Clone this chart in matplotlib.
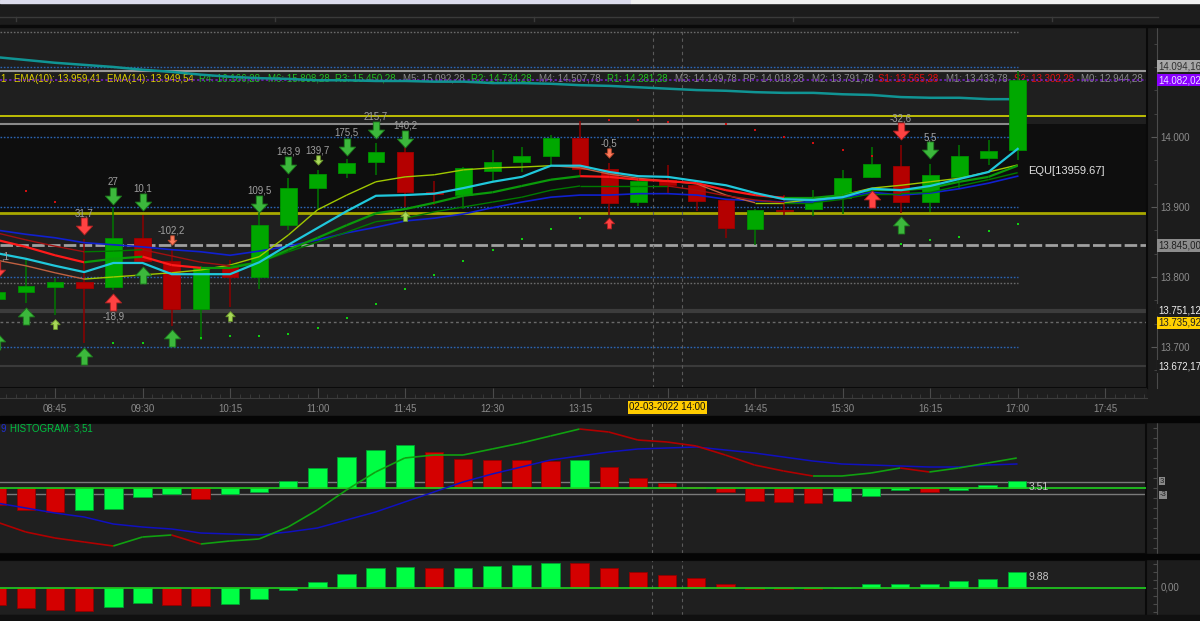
import matplotlib
matplotlib.use("Agg")
import matplotlib.pyplot as plt
import numpy as np
from matplotlib.collections import LineCollection
from matplotlib.lines import Line2D
from matplotlib.patches import Rectangle
from matplotlib.path import Path
from matplotlib.ticker import FuncFormatter, MultipleLocator, FixedLocator
from matplotlib.transforms import blended_transform_factory

plt.rcParams['font.family'] = ['Liberation Sans', 'DejaVu Sans']

W, H = 1200, 621

# 15 minute bars, 02-03-2022
bar_labels = ["08:15", "08:30", "08:45", "09:00", "09:15", "09:30", "09:45", "10:00", "10:15",
              "10:30", "10:45", "11:00", "11:15", "11:30", "11:45", "12:00", "12:15", "12:30",
              "12:45", "13:00", "13:15", "13:30", "13:45", "14:00", "14:15", "14:30", "14:45",
              "15:00", "15:15", "15:30", "15:45", "16:00", "16:15", "16:30", "16:45", "17:00"]
opens = [13769, 13779, 13786, 13793, 13786, 13856, 13823, 13754, 13816, 13800, 13874, 13927,
         13949, 13964, 13979, 13921, 13917, 13951, 13964, 13973, 13999, 13954, 13907, 13939,
         13931, 13910, 13869, 13896, 13897, 13913, 13943, 13959, 13907, 13943, 13970, 13981]
closes = [13779, 13787, 13793, 13784, 13856, 13823, 13754, 13813, 13800, 13874, 13927, 13947,
          13963, 13979, 13921, 13919, 13956, 13964, 13973, 13999, 13954, 13906, 13937, 13931,
          13909, 13870, 13896, 13894, 13911, 13941, 13961, 13907, 13946, 13973, 13980, 14082.02]
highs = [13782, 13827, 13799, 13854, 13900, 13889, 13840, 13815, 13824, 13891, 13941, 13953,
         13969, 13991, 13989, 13937, 13957, 13981, 13986, 14003, 14023, 13963, 13939, 13960,
         13933, 13911, 13897, 13917, 13924, 13953, 13986, 13989, 13961, 13989, 13996, 14094.16]
lows = [13765, 13763, 13746, 13706, 13781, 13821, 13730, 13710, 13757, 13783, 13867, 13896,
        13941, 13946, 13900, 13903, 13897, 13937, 13950, 13960, 13946, 13889, 13901, 13920,
        13894, 13856, 13846, 13889, 13887, 13890, 13942, 13891, 13893, 13927, 13960, 13967]

ma_cyan = [13834, 13826, 13816, 13807, 13820, 13820, 13804, 13804, 13804, 13821, 13846, 13870,
           13894, 13916, 13917, 13919, 13927, 13936, 13943, 13959, 13959, 13950, 13944, 13943,
           13937, 13931, 13920, 13911, 13910, 13914, 13926, 13924, 13930, 13940, 13950, 13983]
ema10 = [13853, 13843, 13831, 13821, 13826, 13829, 13817, 13813, 13813, 13821, 13839, 13856,
         13874, 13891, 13897, 13906, 13916, 13921, 13930, 13939, 13944, 13943, 13939, 13937,
         13934, 13924, 13917, 13913, 13913, 13917, 13924, 13924, 13927, 13936, 13943, 13959]
ema14 = [13863, 13853, 13844, 13836, 13837, 13839, 13830, 13821, 13816, 13821, 13836, 13850,
         13864, 13879, 13884, 13893, 13900, 13907, 13914, 13924, 13930, 13930, 13930, 13930,
         13924, 13916, 13910, 13906, 13906, 13911, 13919, 13919, 13921, 13930, 13939, 13949]
ma_blue = [13867, 13861, 13856, 13849, 13846, 13843, 13839, 13836, 13831, 13837, 13844, 13853,
           13863, 13871, 13880, 13884, 13890, 13899, 13907, 13914, 13917, 13917, 13919, 13919,
           13917, 13911, 13909, 13907, 13907, 13913, 13921, 13917, 13920, 13926, 13934, 13944]
ma_lime = [13824, 13816, 13806, 13797, 13800, 13803, 13806, 13810, 13817, 13829, 13860, 13896,
           13917, 13936, 13943, 13946, 13953, 13956, 13957, 13959, 13956, 13947, 13941, 13937,
           13933, 13917, 13906, 13906, 13911, 13917, 13927, 13931, 13936, 13941, 13950, 13960]
ma_long = [14114, 14110, 14106, 14103, 14100, 14096, 14093, 14089, 14086, 14084, 14083, 14081,
           14081, 14080, 14080, 14079, 14079, 14077, 14077, 14076, 14074, 14073, 14071, 14069,
           14067, 14066, 14064, 14063, 14063, 14061, 14060, 14057, 14056, 14056, 14054, 14054]

# signal arrows (bar index, price)
down_green_idx = [4, 5, 9, 10, 12, 13, 14, 32]
down_green_val = [13916, 13907, 13904, 13960, 13986, 14010, 13997, 13981]
down_lime_idx = [11]
down_lime_val = [13967]
down_red_idx = [0, 3, 31]
down_red_val = [13810, 13873, 14009]
down_salmon_idx = [6, 21]
down_salmon_val = [13853, 13977]
up_green_idx = [0, 1, 3, 5, 6, 31]
up_green_val = [13709, 13744, 13687, 13803, 13713, 13874]
up_lime_idx = [2, 8, 14]
up_lime_val = [13733, 13744, 13887]
up_red_idx = [4, 30]
up_red_val = [13764, 13911]
up_red_small_idx = [21]
up_red_small_val = [13877]
signal_text_idx = [3, 4, 5, 6, 9, 10, 11, 12, 13, 14, 21, 31, 32, 4]
signal_text = ["31,7", "27", "10,1", "-102,2", "109,5", "143,9", "139,7", "175,5",
               "215,7", "140,2", "-0,5", "-32,6", "5,5", "-18,9"]
signal_text_val = [13891, 13936, 13927, 13867, 13923, 13979, 13980, 14006, 14029, 14017,
                   13991, 14026, 13999, 13744]
edge_text, edge_text_val = ",1", 13829

green_dot_idx = [4, 5, 7, 8, 9, 10, 11, 12, 13, 14, 15, 16, 17, 18, 19, 20, 31, 32, 33, 34, 35]
green_dot_val = [13706, 13706, 13713, 13716, 13716, 13719, 13727, 13741, 13761, 13783, 13803,
                 13823, 13839, 13854, 13869, 13884, 13847, 13853, 13857, 13866, 13876]
red_dot_idx = [1, 2, 21, 22, 23, 25, 26, 27, 28, 29, 30]
red_dot_val = [13923, 13907, 14024, 14024, 14021, 14019, 14010, 14000, 13991, 13981, 13973]

# levels
pivot_names = ["R4", "M6", "R3", "M5", "R2", "M4", "R1", "M3", "PP", "M2", "S1", "M1", "S2", "M0"]
pivot_values = [16166.28, 15808.28, 15450.28, 15092.28, 14734.28, 14507.78, 14281.28, 14149.78,
                14018.28, 13791.78, 13565.28, 13433.78, 13302.28, 12944.28]
ema10_last, ema14_last, equ_value = 13959.41, 13949.54, 13959.67
grid_levels = [13700, 13800, 13900, 14000, 14100]
price_ticks = [13700, 13800, 13900, 14000]
upper_dotted = 14150
yellow_level = 14030
band_low = 13891
day_high, last_price = 14094.16, 14082.02
dashed_level = 13845.00
level_a, level_b, level_c = 13751.12, 13735.92, 13672.17

# MACD style panels
macd = [-17, -22, -25, -27, -29, -24.5, -23.5, -28, -26.5, -25.5, -19.5, -11, -1, 8, 15, 16.5,
        16.5, 19.5, 22.5, 26, 29.5, 28, 24, 23, 21, 16.5, 11.5, 8.5, 6, 6, 7.5, 10, 8, 10, 12.5, 15]
signal = [-7.5, -10, -12.5, -14.5, -18, -19.5, -20.5, -22.5, -23, -23.5, -22, -20, -16, -12, -7,
          -2, 3, 7, 10.5, 14, 16, 18, 19.5, 20, 20.5, 19, 17.5, 15.5, 13.5, 12, 11.5, 11, 10.5,
          10.5, 11.5, 12]
histogram = [-8.5, -11, -12, -11, -10.5, -4.5, -3, -5.5, -3, -2, 3.5, 10, 15.5, 19, 21.5, 18,
             14.5, 14.2, 14, 13.5, 14, 10.5, 5, 2.5, 0.5, -2, -6.5, -7, -7.5, -6.5, -4, -1, -2,
             -1, 1.5, 3.51]
momentum = [-10.5, -12.3, -13.6, -14.2, -11.7, -9.3, -10.5, -11.1, -9.9, -6.8, -1.2, 3.7, 8.6,
            12.3, 13.0, 12.3, 12.4, 13.6, 14.2, 15.6, 15.4, 12.3, 9.9, 8.0, 6.2, 2.5, -0.5, -0.6,
            -0.8, 0.1, 2.5, 2.6, 2.7, 4.3, 5.6, 9.88]


def to_min(label):
    hh, mm = label.split(":")
    return (int(hh) - 8) * 60 + int(mm)


def br(v, nd=2):
    s = f"{v:,.{nd}f}"
    return s.replace(",", "X").replace(".", ",").replace("X", ".")


def px_rect(left, top, right, bottom):
    return [left / W, 1 - bottom / H, (right - left) / W, (bottom - top) / H]


def slope_line(ax, x, y, up_col, down_col, lw, z):
    segs, cols = [], []
    for i in range(len(x) - 1):
        if np.isnan(y[i]) or np.isnan(y[i + 1]):
            continue
        segs.append([(x[i], y[i]), (x[i + 1], y[i + 1])])
        cols.append(up_col if y[i + 1] >= y[i] else down_col)
    ax.add_collection(LineCollection(segs, colors=cols, linewidths=lw, zorder=z))


def rise_colors(vals, up, down):
    return [down] + [up if b > a else down for a, b in zip(vals[:-1], vals[1:])]


x = np.array([to_min(t) for t in bar_labels], float)
X0, X1 = 16.7, 606.5
mark_times = [352.5, 367.5]

fig = plt.figure(figsize=(12, 6.21), dpi=100, facecolor='#1c1c1c')

# top strip and separators
fig.add_artist(Rectangle((0, 1 - 3 / H), 631 / W, 3 / H, transform=fig.transFigure, color='#dcdcec'))
fig.add_artist(Rectangle((631 / W, 1 - 3 / H), 1 - 631 / W, 3 / H, transform=fig.transFigure, color='#f0f0f0'))
fig.add_artist(Line2D([0, 1158 / W], [1 - 17 / H] * 2, transform=fig.transFigure, color='#3a3a3a', lw=1))
for tx in [16, 275, 534, 793, 1052]:
    fig.add_artist(Line2D([tx / W] * 2, [1 - 17 / H, 1 - 21 / H], transform=fig.transFigure, color='#3a3a3a', lw=1))
fig.add_artist(Rectangle((0, 1 - 27 / H), 1, 2 / H, transform=fig.transFigure, color='#0a0a0a'))
fig.add_artist(Rectangle((0, 1 - 422 / H), 1, 6 / H, transform=fig.transFigure, color='#050505'))
fig.add_artist(Rectangle((0, 1 - 559 / H), 1, 5 / H, transform=fig.transFigure, color='#050505'))
fig.add_artist(Rectangle((0, 0), 1, 6 / H, transform=fig.transFigure, color='#101010'))

# ---------------- main price panel ----------------
ax = fig.add_axes(px_rect(0, 27, 1147, 388), facecolor='#1f1f1f')
ax.set_xlim(X0, X1)
ax.set_ylim(13641.4, 14157.1)
ax.set_xticks([])
ax.spines['left'].set_visible(False)
for s in ('top', 'bottom'):
    ax.spines[s].set_color('#0a0a0a')
    ax.spines[s].set_linewidth(1.5)
ax.spines['right'].set_position(('outward', 7.4))
ax.spines['right'].set_color('#4a4a4a')
ax.yaxis.tick_right()
ax.yaxis.set_major_locator(FixedLocator(price_ticks))
ax.yaxis.set_minor_locator(MultipleLocator(100 / 3))
ax.yaxis.set_major_formatter(FuncFormatter(lambda v, p: br(v, 0)))
ax.tick_params(axis='y', which='major', direction='in', length=4, color='#5a5a5a',
               labelcolor='#8c8c8c', labelsize=7, pad=2)
ax.tick_params(axis='y', which='minor', direction='in', length=2.5, color='#4a4a4a')
ax.plot([1, 1], [0, 1], transform=ax.transAxes, color='#0a0a0a', lw=1.5, clip_on=False, zorder=10)

ax.axhspan(band_low, pivot_values[8], color='#0e0e0e', zorder=0.5, lw=0)
ax.hlines(grid_levels, X0, x[-1], colors='#2a64b4', linestyles=(0, (1.2, 1.2)), lw=1, zorder=1)
ax.hlines([upper_dotted, pivot_values[9]], X0, x[-1], colors='#6a6a6a', linestyles=(0, (1.2, 1.2)), lw=1, zorder=1)
ax.hlines([pivot_values[8]], X0, x[-1], colors='#8a8a8a', lw=1.5, zorder=1)
ax.axhline(day_high, color='#9a9a9a', lw=1.5, zorder=1)
ax.axhline(yellow_level, color='#d8d800', lw=1.2, zorder=1)
ax.axhline(band_low, color='#a8a800', lw=2, zorder=1)
ax.axhline(dashed_level, color='#a0a0a0', lw=2, ls=(0, (4.5, 1.2)), zorder=1)
ax.axhline(level_a, color='#3c3c3c', lw=3, zorder=1)
ax.axhline(level_b, color='#6a6a6a', lw=1, ls=(0, (2, 2)), zorder=1)
ax.axhline(level_c, color='#3a3a3a', lw=1.5, zorder=1)
ax.axhline(last_price, color='#7a20d0', lw=1.1, ls=(0, (1.5, 1.5)), zorder=1.6)
for t in mark_times:
    ax.axvline(t, color='#5a5a5a', lw=0.8, ls=(0, (3, 3)), zorder=1)

# header text row
hdr = blended_transform_factory(ax.transAxes, ax.transData)
hdr_items = [("1", 0, '#e0d000'), (f"EMA(10): {br(ema10_last)}", 14, '#e0d000'),
             (f"EMA(14): {br(ema14_last)}", 107, '#e0d000')]
pivot_px = [199, 268, 335, 403, 471, 539, 607, 675, 743, 812, 878, 946, 1014, 1081]
for name, val, px in zip(pivot_names, pivot_values, pivot_px):
    col = {'R': '#22c022', 'S': '#e01010'}.get(name[0], '#8a8a8a')
    if name == "M6":
        col = '#22c022'
    hdr_items.append((f"{name}: {br(val)}", px, col))
for s, px, col in hdr_items:
    ax.text(px / 1147, last_price + 0.8, s, transform=hdr, color=col, fontsize=7,
            va='center', ha='left', zorder=1.5)

# candles
o, c, hi, lo = map(np.array, (opens, closes, highs, lows))
up = c >= o
ax.vlines(x, lo, hi, colors=np.where(up, '#007800', '#8c0000'), lw=1.1, zorder=4)
ax.bar(x, np.maximum(np.abs(c - o), 1.6), width=8.6, bottom=np.minimum(o, c),
       color=np.where(up, '#00a800', '#b40000'), edgecolor=np.where(up, '#009000', '#a00000'),
       lw=0.6, zorder=4.2)

# moving averages
ax.plot(x, ma_long, color='#109494', lw=1.8, zorder=3)
ax.plot(x, ma_blue, color='#1020d0', lw=1.2, zorder=4.5)
slope_line(ax, x, np.array(ma_lime, float), '#a0c800', '#c06040', 1.0, 4.6)
slope_line(ax, x, np.array(ema14, float), '#007a00', '#a01010', 1.0, 4.6)
slope_line(ax, x, np.array(ema10, float), '#0a9a0a', '#ff1a1a', 1.6, 4.7)
ax.plot(x, ma_cyan, color='#20c8dc', lw=1.6, zorder=4.8)

# dots
ax.scatter(x[green_dot_idx], green_dot_val, marker='s', s=2.5, color='#10d010', lw=0, zorder=4)
ax.scatter(x[red_dot_idx], red_dot_val, marker='s', s=2.5, color='#d01010', lw=0, zorder=4)

# arrows
down_path = Path([(-0.38, 1), (0.38, 1), (0.38, 0.05), (0.95, 0.05), (0, -1), (-0.95, 0.05),
                  (-0.38, 0.05), (-0.38, 1)], closed=True)
up_path = Path([(vx, -vy) for vx, vy in down_path.vertices], closed=True)
arrow_sets = [
    (down_green_idx, down_green_val, down_path, 150, '#3cb83c', '#1c7a1c'),
    (down_lime_idx, down_lime_val, down_path, 45, '#a8d858', '#6a9a2a'),
    (down_red_idx, down_red_val, down_path, 150, '#ff4242', '#b02020'),
    (down_salmon_idx, down_salmon_val, down_path, 45, '#ff7a5a', '#c04a30'),
    (up_green_idx, up_green_val, up_path, 150, '#3cb83c', '#1c7a1c'),
    (up_lime_idx, up_lime_val, up_path, 50, '#a8d858', '#6a9a2a'),
    (up_red_idx, up_red_val, up_path, 150, '#ff4242', '#b02020'),
    (up_red_small_idx, up_red_small_val, up_path, 60, '#ff4242', '#b02020'),
]
for idx, vals, path, size, fc, ec in arrow_sets:
    ax.scatter(x[idx], vals, marker=path, s=size, color=fc, edgecolors=ec, linewidths=0.6, zorder=6)
for i, s, v in zip(signal_text_idx, signal_text, signal_text_val):
    ax.text(x[i], v, s, color='#a0a0a0', fontsize=7, ha='center', va='center', zorder=6)
ax.text(0.001, edge_text_val, edge_text, transform=hdr, color='#a0a0a0', fontsize=7,
        ha='left', va='center', zorder=6)

ax.text(x[-1] + 5.5, 13951.4, f"EQU[{equ_value}]", color='#e0e0e0', fontsize=8, va='center',
        ha='left', zorder=6)

# boxed price labels on the right scale
rt = blended_transform_factory(ax.transAxes, ax.transData)
price_boxes = [(day_high, 7, '#a8a8a8', '#303030'), (last_price, -1, '#8a00ff', '#eae0ff'),
               (dashed_level, 0, '#8c8c8c', '#202020'), (level_a, 1.5, '#1c1c1c', '#f0f0f0'),
               (level_b, -1.5, '#ffd000', '#202020'), (level_c, 0, '#1c1c1c', '#f0f0f0')]
for val, shift, fc, tc in price_boxes:
    ax.text(1.0098, val + shift, br(val), transform=rt, color=tc, fontsize=7, va='center', ha='left',
            clip_on=False, zorder=11, bbox=dict(boxstyle='square,pad=0.12', fc=fc, ec='none'))

# ---------------- time strip ----------------
axt = fig.add_axes(px_rect(0, 388, 1147, 398), facecolor='#1e1e1e')
axt.set_xlim(X0, X1)
axt.set_yticks([])
for s in ('top', 'left', 'right'):
    axt.spines[s].set_visible(False)
axt.spines['bottom'].set_color('#3c3c3c')
major_t = list(range(45, 600, 45))
axt.xaxis.set_major_locator(FixedLocator(major_t))
axt.xaxis.set_minor_locator(MultipleLocator(5))
axt.set_xticklabels(["" if m == 360 else f"{8 + m // 60:02d}:{m % 60:02d}" for m in major_t])
axt.tick_params(axis='x', which='major', direction='in', length=7, color='#4a4a4a',
                labelcolor='#8a8a8a', labelsize=7, pad=4.5)
axt.tick_params(axis='x', which='minor', direction='in', length=3, color='#3c3c3c')
axt.text(360, -0.95, "02-03-2022 14:00", transform=blended_transform_factory(axt.transData, axt.transAxes),
         color='#101010', fontsize=7, ha='center', va='center', clip_on=False,
         bbox=dict(boxstyle='square,pad=0.15', fc='#ffcc00', ec='none'))


def lower_panel(rect, ylim):
    a = fig.add_axes(px_rect(*rect), facecolor='#1f1f1f')
    a.set_xlim(X0, X1)
    a.set_ylim(*ylim)
    a.set_xticks([])
    a.spines['left'].set_visible(False)
    for s in ('top', 'bottom'):
        a.spines[s].set_color('#0a0a0a')
    a.spines['right'].set_position(('outward', 8))
    a.spines['right'].set_color('#4a4a4a')
    a.yaxis.tick_right()
    a.yaxis.set_major_locator(MultipleLocator(5))
    a.yaxis.set_major_formatter(FuncFormatter(lambda v, p: ""))
    a.tick_params(axis='y', direction='in', length=3, color='#4a4a4a')
    a.plot([1, 1], [0, 1], transform=a.transAxes, color='#0a0a0a', lw=1.5, clip_on=False)
    for t in mark_times:
        a.axvline(t, color='#5a5a5a', lw=0.8, ls=(0, (3, 3)), zorder=1)
    return a


# ---------------- MACD panel ----------------
ax1 = lower_panel((0, 423, 1146, 553), (-32.5, 32.5))
ax1.axhline(3, color='#7a7a7a', lw=1, zorder=1)
ax1.axhline(-3, color='#7a7a7a', lw=1, zorder=1)
ax1.bar(x, histogram, width=9.5, color=rise_colors(histogram, '#00ff44', '#d40000'),
        edgecolor=rise_colors(histogram, '#00a030', '#900000'), lw=0.6, zorder=2)
ax1.axhline(0, color='#20d020', lw=1.2, zorder=2.5)
ax1.plot(x, signal, color='#1010c0', lw=1.1, zorder=3)
slope_line(ax1, x, np.array(macd, float), '#10a010', '#b00000', 1.2, 3.1)
ax1.text(10 / 1146, 0.955, "HISTOGRAM: " + br(histogram[-1]), transform=ax1.transAxes,
         color='#00c040', fontsize=7, va='center', ha='left')
ax1.text(0.0005, 0.955, "9", transform=ax1.transAxes, color='#2030d0', fontsize=7,
         va='center', ha='left')
ax1.text(x[-1] + 6, 0.5, f"{histogram[-1]:.2f}", color='#c8c8c8', fontsize=7.5, va='center', ha='left')
for v in (3, -3):
    ax1.text(1.012, v + (0.4 if v > 0 else -0.4), str(v),
             transform=blended_transform_factory(ax1.transAxes, ax1.transData),
             color='#202020', fontsize=5.5, va='center', ha='left', clip_on=False,
             bbox=dict(boxstyle='square,pad=0.1', fc='#8a8a8a', ec='none'))

# ---------------- momentum panel ----------------
ax2 = lower_panel((0, 560, 1146, 615), (-16.7, 17.3))
ax2.bar(x, momentum, width=9.5, color=rise_colors(momentum, '#00ff44', '#d40000'),
        edgecolor=rise_colors(momentum, '#00a030', '#900000'), lw=0.6, zorder=2)
ax2.axhline(0, color='#20d020', lw=1.2, zorder=2.5)
ax2.text(x[-1] + 6, 6.8, f"{momentum[-1]:.2f}", color='#c8c8c8', fontsize=7.5, va='center', ha='left')
ax2.text(1.013, 0, "0,00", transform=blended_transform_factory(ax2.transAxes, ax2.transData),
         color='#8a8a8a', fontsize=7, va='center', ha='left', clip_on=False)

fig.savefig("out.png", dpi=100, facecolor=fig.get_facecolor())
